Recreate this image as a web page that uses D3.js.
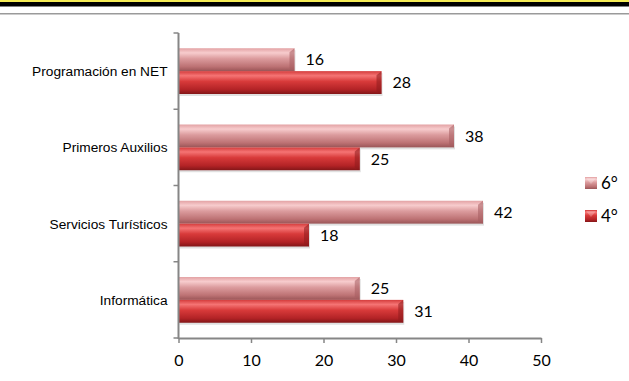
<!DOCTYPE html>
<html lang="es">
<head>
<meta charset="utf-8">
<title>Cursos por grado</title>
<script src="https://d3js.org/d3.v7.min.js"></script>
<style>
  body { margin: 0; background: #fff; }
  svg { display: block; }
</style>
</head>
<body>
<div id="chart"></div>
<script>
// data
var categories = ['Programación en NET', 'Primeros Auxilios', 'Servicios Turísticos', 'Informática'];
var series = ['6°', '4°'];
var values6 = [16, 38, 42, 25];
var values4 = [28, 25, 18, 31];
var xTicks = [0, 10, 20, 30, 40, 50];

var width = 629, height = 381;
var margin = {top: 33, left: 178.5, right: 88, bottom: 43};

var svg = d3.select('#chart').append('svg')
    .attr('width', width)
    .attr('height', height);

// page header strips
svg.append('rect').attr('x', 0).attr('y', 0).attr('width', width).attr('height', 2).attr('fill', '#f5ec55');
svg.append('rect').attr('x', 0).attr('y', 2).attr('width', width).attr('height', 4.5).attr('fill', '#000');
svg.append('rect').attr('x', 0).attr('y', 13).attr('width', width).attr('height', 1.5).attr('fill', '#9a9a9a');

var defs = svg.append('defs');
function grad(id, stops) {
  var g = defs.append('linearGradient').attr('id', id)
      .attr('x1', 0).attr('y1', 0).attr('x2', 0).attr('y2', 1);
  stops.forEach(function(s) {
    g.append('stop').attr('offset', s[0]).attr('stop-color', s[1]);
  });
}
grad('g6', [[0, '#e3a2a4'], [0.2, '#f7cccd'], [0.45, '#dc9c9e'], [0.8, '#bd7274'], [1, '#9a5557']]);
grad('g4', [[0, '#d43c3c'], [0.2, '#f57474'], [0.45, '#d83a3a'], [0.8, '#b32326'], [1, '#831618']]);
var fills = {'6°': 'url(#g6)', '4°': 'url(#g4)'};
var caps = {'6°': '#a65d60', '4°': '#8e1c1e'};

var x = d3.scaleLinear()
    .domain([0, 50])
    .range([margin.left, 541]);

var y = d3.scaleBand()
    .domain(categories)
    .range([margin.top, 338])
    .paddingInner(0.4)
    .paddingOuter(0.2);

var ySub = d3.scaleBand()
    .domain(series)
    .range([0, y.bandwidth()]);

var rows = categories.map(function(c, i) {
  return {cat: c, vals: [{s: '6°', v: values6[i]}, {s: '4°', v: values4[i]}]};
});

var g = svg.selectAll('.grp')
    .data(rows)
    .enter().append('g')
    .attr('class', 'grp')
    .attr('transform', function(d) { return 'translate(0,' + y(d.cat) + ')'; });

var bar = g.selectAll('.bar')
    .data(function(d) { return d.vals; })
    .enter().append('g')
    .attr('class', 'bar');

// soft shadow under each bar
bar.append('rect')
    .attr('x', x(0) + 1)
    .attr('y', function(d) { return ySub(d.s) + 2; })
    .attr('width', function(d) { return x(d.v) - x(0); })
    .attr('height', ySub.bandwidth())
    .attr('fill', '#000')
    .attr('opacity', 0.12);

bar.append('rect')
    .attr('x', x(0))
    .attr('y', function(d) { return ySub(d.s); })
    .attr('width', function(d) { return x(d.v) - x(0); })
    .attr('height', ySub.bandwidth())
    .attr('fill', function(d) { return fills[d.s]; });

// bevelled end of the bar
bar.append('path')
    .attr('d', function(d) {
      var x1 = x(d.v), y0 = ySub(d.s), h = ySub.bandwidth();
      return 'M' + (x1 - 5) + ',' + (y0 + 4) + 'L' + x1 + ',' + y0 + 'L' + x1 + ',' + (y0 + h) +
             'L' + (x1 - 5) + ',' + (y0 + h - 3) + 'Z';
    })
    .attr('fill', function(d) { return caps[d.s]; })
    .attr('opacity', 0.55);

bar.append('text')
    .attr('x', function(d) { return x(d.v) + 11; })
    .attr('y', function(d) { return ySub(d.s) + ySub.bandwidth() / 2; })
    .attr('dy', '0.36em')
    .attr('font-family', 'Lato, "Open Sans", sans-serif')
    .attr('font-size', '16px')
    .attr('fill', '#000')
    .text(function(d) { return d.v; });

// axes
var xAxis = d3.axisBottom(x).tickValues(xTicks).tickSize(5).tickSizeOuter(0);
var gx = svg.append('g')
    .attr('transform', 'translate(0,338)')
    .call(xAxis);
gx.select('.domain').attr('stroke', '#868686').attr('stroke-width', 2);
gx.selectAll('.tick line').attr('stroke', '#868686').attr('stroke-width', 1.5);
gx.selectAll('text')
    .attr('font-family', 'Lato, "Open Sans", sans-serif')
    .attr('font-size', '16px')
    .attr('fill', '#000')
    .attr('y', 17)
    .attr('dy', '0.71em');

// y axis: ticks sit on the category boundaries
var bounds = [margin.top].concat(categories.map(function(c) { return y(c) + y.bandwidth() + y.step() * 0.2; }));
var gy = svg.append('g');
gy.append('line')
    .attr('x1', x(0)).attr('x2', x(0))
    .attr('y1', margin.top).attr('y2', 339)
    .attr('stroke', '#868686').attr('stroke-width', 2);
gy.selectAll('.yt')
    .data(bounds)
    .enter().append('line')
    .attr('x1', x(0) - 5).attr('x2', x(0))
    .attr('y1', function(d) { return d; }).attr('y2', function(d) { return d; })
    .attr('stroke', '#868686').attr('stroke-width', 1.5);
gy.selectAll('.ylab')
    .data(categories)
    .enter().append('text')
    .attr('x', x(0) - 11)
    .attr('y', function(d) { return y(d) + y.bandwidth() / 2; })
    .attr('dy', '0.36em')
    .attr('text-anchor', 'end')
    .attr('font-family', '"Liberation Sans", Arial, sans-serif')
    .attr('font-size', '13.7px')
    .attr('fill', '#000')
    .text(function(d) { return d; });

// legend
var legend = svg.selectAll('.leg')
    .data(series)
    .enter().append('g')
    .attr('class', 'leg')
    .attr('transform', function(d, i) { return 'translate(585,' + (177 + i * 33) + ')'; });
legend.append('rect')
    .attr('width', 12).attr('height', 12)
    .attr('fill', function(d) { return fills[d]; });
legend.append('path')
    .attr('d', 'M1,1L11,1L6,7Z')
    .attr('fill', '#fff')
    .attr('opacity', 0.25);
legend.append('text')
    .attr('x', 16).attr('y', 6)
    .attr('dy', '0.36em')
    .attr('font-family', 'Lato, "Open Sans", sans-serif')
    .attr('font-size', '17px')
    .attr('fill', '#000')
    .text(function(d) { return d; });
</script>
</body>
</html>
